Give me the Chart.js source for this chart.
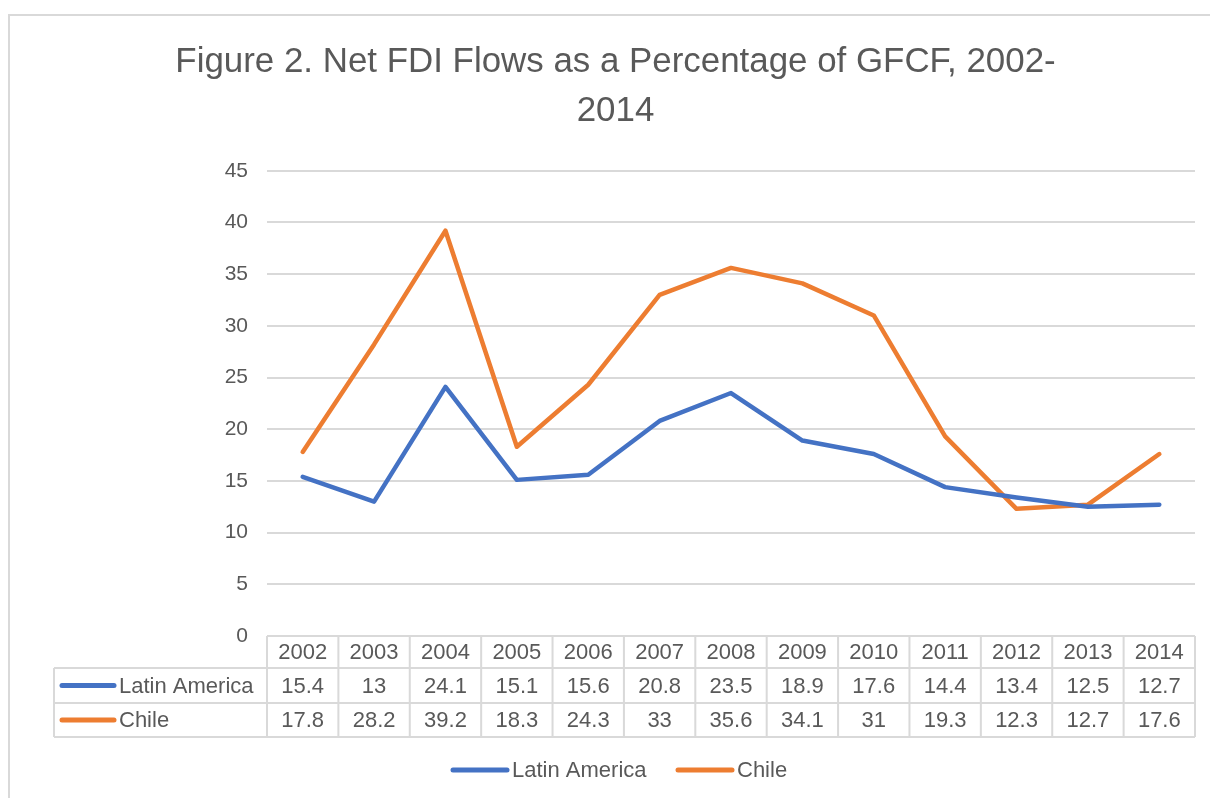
<!DOCTYPE html>
<html>
<head>
<meta charset="utf-8">
<script src="https://cdn.jsdelivr.net/npm/chart.js@4"></script>
<style>
  body { margin: 0; background: #fff; }
</style>
</head>
<body>
<canvas id="fdiChart" width="1210" height="798"></canvas>
<script>
// Data
const years = ['2002', '2003', '2004', '2005', '2006', '2007', '2008', '2009', '2010', '2011', '2012', '2013', '2014'];
const latinAmerica = [15.4, 13, 24.1, 15.1, 15.6, 20.8, 23.5, 18.9, 17.6, 14.4, 13.4, 12.5, 12.7];
const chile = [17.8, 28.2, 39.2, 18.3, 24.3, 33, 35.6, 34.1, 31, 19.3, 12.3, 12.7, 17.6];
const yTicks = [0, 5, 10, 15, 20, 25, 30, 35, 40, 45];

const FONT = '"Liberation Sans", Arial, sans-serif';
const TEXT = '#595959';
const GRID = '#d9d9d9';

// Draws the outer frame, the data table under the plot and the legend
const tablePlugin = {
  id: 'dataTable',
  beforeDraw(chart) {
    const ctx = chart.ctx;
    ctx.save();
    ctx.strokeStyle = GRID;
    ctx.lineWidth = 2;
    ctx.strokeRect(9, 15, 1400, 1000);
    ctx.restore();
  },
  afterDraw(chart) {
    const ctx = chart.ctx;
    const x = chart.scales.x;
    const area = chart.chartArea;
    const colW = (area.right - area.left) / years.length;
    const rowTop = [area.bottom, 668, 703, 737];
    const labelLeft = 54;

    ctx.save();
    ctx.strokeStyle = GRID;
    ctx.lineWidth = 2;
    // horizontal lines
    ctx.beginPath();
    ctx.moveTo(area.left, rowTop[0]); ctx.lineTo(area.right, rowTop[0]);
    for (let r = 1; r < rowTop.length; r++) {
      ctx.moveTo(labelLeft, rowTop[r]); ctx.lineTo(area.right, rowTop[r]);
    }
    // vertical lines
    for (let i = 0; i <= years.length; i++) {
      const px = area.left + i * colW;
      ctx.moveTo(px, rowTop[0]); ctx.lineTo(px, rowTop[3]);
    }
    ctx.moveTo(labelLeft, rowTop[1]); ctx.lineTo(labelLeft, rowTop[3]);
    ctx.stroke();

    ctx.fillStyle = TEXT;
    ctx.font = '22px ' + FONT;
    ctx.textAlign = 'center';
    ctx.textBaseline = 'middle';
    const rows = [years, chart.data.datasets[0].data, chart.data.datasets[1].data];
    rows.forEach((row, r) => {
      const cy = (rowTop[r] + rowTop[r + 1]) / 2 + 1;
      row.forEach((v, i) => {
        ctx.fillText(String(v), x.getPixelForValue(i), cy);
      });
    });

    // series keys in the table
    ctx.lineCap = 'round';
    ctx.lineWidth = 5;
    ctx.textAlign = 'left';
    chart.data.datasets.forEach((ds, d) => {
      const cy = (rowTop[d + 1] + rowTop[d + 2]) / 2;
      ctx.strokeStyle = ds.borderColor;
      ctx.beginPath();
      ctx.moveTo(62, cy); ctx.lineTo(114, cy);
      ctx.stroke();
      ctx.fillText(ds.label, 119, cy + 1);
    });

    // legend
    const legendX = [453, 678];
    chart.data.datasets.forEach((ds, d) => {
      const lx = legendX[d];
      const cy = 770;
      ctx.strokeStyle = ds.borderColor;
      ctx.beginPath();
      ctx.moveTo(lx, cy); ctx.lineTo(lx + 54, cy);
      ctx.stroke();
      ctx.fillText(ds.label, lx + 59, cy + 1);
    });
    ctx.restore();
  }
};

new Chart(document.getElementById('fdiChart'), {
  type: 'line',
  data: {
    labels: years,
    datasets: [
      {
        label: 'Latin America',
        data: latinAmerica,
        borderColor: '#4472C4',
        backgroundColor: '#4472C4',
        borderWidth: 4.5,
        pointRadius: 0,
        tension: 0,
        borderJoinStyle: 'round',
        borderCapStyle: 'round'
      },
      {
        label: 'Chile',
        data: chile,
        borderColor: '#ED7D31',
        backgroundColor: '#ED7D31',
        borderWidth: 4.5,
        pointRadius: 0,
        tension: 0,
        borderJoinStyle: 'round',
        borderCapStyle: 'round'
      }
    ]
  },
  options: {
    responsive: false,
    animation: false,
    layout: {
      padding: { left: 36, right: 15, top: 0, bottom: 162 }
    },
    scales: {
      x: {
        type: 'category',
        offset: true,
        display: false
      },
      y: {
        min: 0,
        max: 45,
        afterFit(scale) { scale.width = 231; },
        afterBuildTicks(scale) { scale.ticks = yTicks.map(v => ({ value: v })); },
        border: { display: false },
        grid: { color: GRID, lineWidth: 2, drawTicks: false },
        ticks: {
          padding: 19,
          color: TEXT,
          font: { family: FONT, size: 21 }
        }
      }
    },
    plugins: {
      legend: { display: false },
      tooltip: { enabled: false },
      title: {
        display: true,
        text: ['Figure 2. Net FDI Flows as a Percentage of GFCF, 2002-', '2014'],
        color: TEXT,
        font: { family: FONT, size: 34.9, weight: 'normal', lineHeight: 1.4 },
        padding: { top: 38, bottom: 35 }
      }
    }
  },
  plugins: [tablePlugin]
});
</script>
</body>
</html>
